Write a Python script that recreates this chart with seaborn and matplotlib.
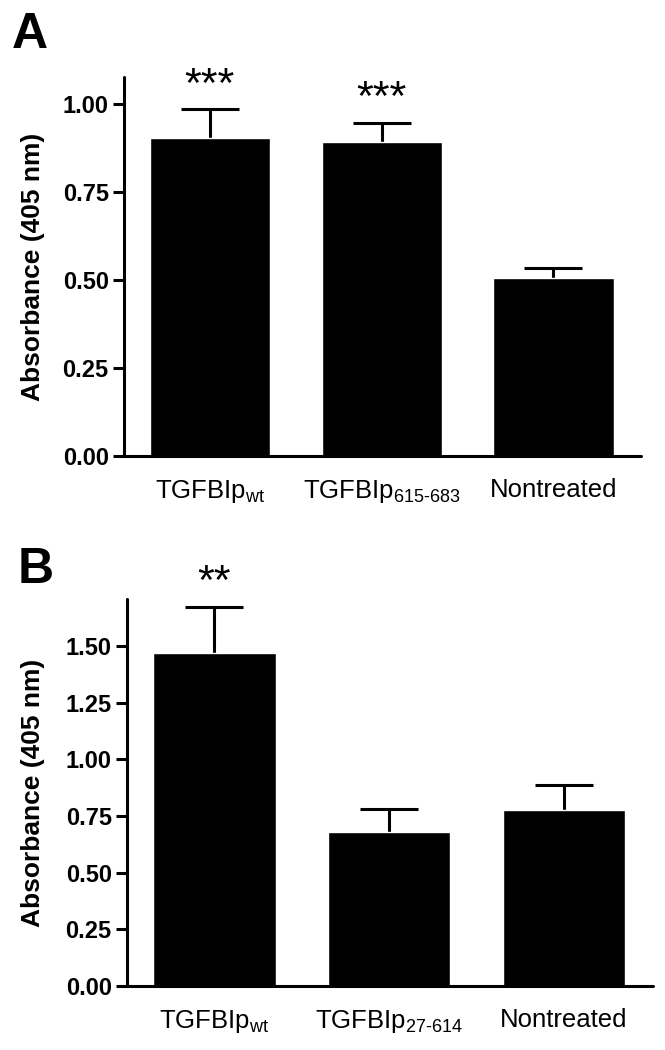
import matplotlib
matplotlib.use('Agg')
import matplotlib.pyplot as plt
import seaborn as sns

# panel A
groups_a = ['TGFBIp$_{\\mathrm{wt}}$', 'TGFBIp$_{\\mathrm{615\\text{-}683}}$', 'Nontreated']
means_a = [0.905, 0.892, 0.505]
sem_a = [0.080, 0.054, 0.030]
stars_a = ['***', '***', '']

# panel B
groups_b = ['TGFBIp$_{\\mathrm{wt}}$', 'TGFBIp$_{\\mathrm{27\\text{-}614}}$', 'Nontreated']
means_b = [1.469, 0.679, 0.778]
sem_b = [0.203, 0.102, 0.110]
stars_b = ['**', '', '']

sns.set_style('ticks')
plt.rcParams['font.family'] = ['Liberation Sans', 'DejaVu Sans']
plt.rcParams['mathtext.fontset'] = 'custom'
plt.rcParams['mathtext.rm'] = 'Liberation Sans'
plt.rcParams['mathtext.it'] = 'Liberation Sans:italic'
plt.rcParams['mathtext.bf'] = 'Liberation Sans:bold'
for key in ['text.color', 'axes.labelcolor', 'xtick.color', 'ytick.color',
            'xtick.labelcolor', 'ytick.labelcolor']:
    plt.rcParams[key] = 'black'

narrow = ['Liberation Sans Narrow', 'Liberation Sans', 'DejaVu Sans']


def draw_panel(ax, groups, means, sem, stars, ymax, yticks, label_x):
    sns.barplot(x=groups, y=means, ax=ax, color='black', width=0.7,
                errorbar=None, saturation=1, order=groups, zorder=2)
    # upward-only error bars, drawn behind the bars
    _, caps, _ = ax.errorbar(range(len(groups)), means,
                             yerr=[[0] * len(sem), sem], fmt='none',
                             ecolor='black', elinewidth=2.2, capsize=21,
                             capthick=2.2, zorder=1)
    caps[0].remove()
    for i, s in enumerate(stars):
        if s:
            ax.annotate(s, xy=(i, means[i] + sem[i]), xytext=(0, 17),
                        textcoords='offset points', ha='center', va='center',
                        fontsize=31, color='black')
    ax.set_xlim(-0.5, 2.51)
    ax.set_ylim(0, ymax)
    ax.set_yticks(yticks)
    ax.set_yticklabels([f'{t:.2f}' for t in yticks], family=narrow,
                       fontweight='bold', fontsize=17)
    ax.tick_params(axis='y', length=8, width=2.2, pad=3, color='black',
                   labelcolor='black')
    ax.tick_params(axis='x', length=0, pad=16, labelsize=18.5,
                   labelcolor='black')
    ax.set_ylabel('Absorbance (405 nm)', family=narrow, fontweight='bold',
                  fontsize=19, color='black')
    ax.yaxis.set_label_coords(label_x, 0.5)
    ax.set_xlabel('')
    sns.despine(ax=ax)
    for side in ['left', 'bottom']:
        ax.spines[side].set_linewidth(2.2)
        ax.spines[side].set_color('black')
        ax.spines[side].set_capstyle('round')


fig = plt.figure(figsize=(6.65, 10.5), dpi=100)
ax_a = fig.add_axes([0.1865, 0.5657, 0.7775, 0.361])
ax_b = fig.add_axes([0.191, 0.061, 0.791, 0.3685])

draw_panel(ax_a, groups_a, means_a, sem_a, stars_a, 1.077,
           [0.0, 0.25, 0.5, 0.75, 1.0], -0.152)
draw_panel(ax_b, groups_b, means_b, sem_b, stars_b, 1.707,
           [0.0, 0.25, 0.5, 0.75, 1.0, 1.25, 1.5], -0.155)

fig.text(0.018, 0.989, 'A', fontsize=36, fontweight='bold', va='top',
         ha='left', color='black')
fig.text(0.026, 0.479, 'B', fontsize=36, fontweight='bold', va='top',
         ha='left', color='black')

fig.savefig('out.png', dpi=100)
